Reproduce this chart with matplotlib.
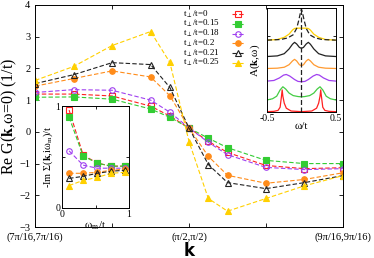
import numpy as np
import matplotlib
matplotlib.use("Agg")
import matplotlib.pyplot as plt
from matplotlib.lines import Line2D

plt.rcParams["font.family"] = "Liberation Serif"
plt.rcParams["mathtext.fontset"] = "stix"
plt.rcParams["xtick.direction"] = "in"
plt.rcParams["ytick.direction"] = "in"

# ---- main panel: Re G(k, w=0) along the diagonal (k in units of pi/16) ----
k_pos = [7, 7.25, 7.5, 7.75, 7.875, 8, 8.125, 8.25, 8.5, 8.75, 9]
k_ticks = [7, 8, 9]
k_labels = ["(7\u03c0/16,7\u03c0/16)", "(\u03c0/2,\u03c0/2)", "(9\u03c0/16,9\u03c0/16)"]

reG_000 = [1.19, 1.19, 1.13, 0.81, 0.50, 0.12, -0.30, -0.65, -1.06, -1.16, -1.13]
reG_015 = [1.09, 1.10, 1.03, 0.72, 0.46, 0.12, -0.20, -0.50, -0.90, -1.00, -1.00]
reG_018 = [1.24, 1.33, 1.31, 1.00, 0.62, 0.12, -0.33, -0.72, -1.12, -1.19, -1.16]
reG_020 = [1.44, 1.68, 1.92, 1.73, 1.14, 0.12, -0.77, -1.37, -1.62, -1.50, -1.29]
reG_021 = [1.52, 1.80, 2.18, 2.12, 1.40, 0.12, -1.03, -1.60, -1.79, -1.60, -1.38]
reG_025 = [1.62, 2.06, 2.72, 3.16, 2.19, -0.31, -2.10, -2.50, -2.10, -1.70, -1.38]

# ---- inset 1: -Im Sigma(k, i w_m)/t ----
w_m = [0.105, 0.314, 0.524, 0.733, 0.942]
sig_000 = [0.96, 0.52, 0.44, 0.41, 0.41]
sig_015 = [0.89, 0.51, 0.44, 0.41, 0.41]
sig_018 = [0.56, 0.42, 0.39, 0.39, 0.39]
sig_020 = [0.34, 0.34, 0.35, 0.37, 0.38]
sig_021 = [0.29, 0.31, 0.34, 0.36, 0.37]
sig_025 = [0.22, 0.27, 0.30, 0.34, 0.35]

# ---- inset 2: A(k, w), curves shifted vertically ----
w_red = [-0.5, -0.4, -0.34, -0.31, -0.29, -0.28, -0.27, -0.25, -0.22, -0.15, 0,
         0.15, 0.22, 0.25, 0.27, 0.28, 0.29, 0.31, 0.34, 0.4, 0.5]
A_000 = [-0.39, -0.38, -0.35, -0.25, 0.10, 0.30, 0.10, -0.12, -0.28, -0.37, -0.39,
         -0.37, -0.28, -0.12, 0.10, 0.30, 0.10, -0.25, -0.35, -0.38, -0.39]
w_grid = [-0.5, -0.42, -0.36, -0.31, -0.27, -0.23, -0.18, -0.12, -0.05, 0,
          0.05, 0.12, 0.18, 0.23, 0.27, 0.31, 0.36, 0.42, 0.5]
A_015 = [-0.02, 0.02, 0.10, 0.30, 0.40, 0.33, 0.20, 0.12, 0.09, 0.08,
         0.09, 0.12, 0.20, 0.33, 0.40, 0.30, 0.10, 0.02, -0.02]
w_pur = [-0.5, -0.4, -0.32, -0.26, -0.22, -0.17, -0.1, -0.05, 0,
         0.05, 0.1, 0.17, 0.22, 0.26, 0.32, 0.4, 0.5]
A_018 = [0.58, 0.60, 0.68, 0.77, 0.79, 0.74, 0.63, 0.57, 0.56,
         0.57, 0.63, 0.74, 0.79, 0.77, 0.68, 0.60, 0.58]
w_mid = [-0.5, -0.35, -0.25, -0.18, -0.13, -0.1, -0.07, -0.03, 0,
         0.03, 0.07, 0.1, 0.13, 0.18, 0.25, 0.35, 0.5]
A_020 = [0.98, 0.99, 1.02, 1.10, 1.22, 1.27, 1.22, 1.10, 1.07,
         1.10, 1.22, 1.27, 1.22, 1.10, 1.02, 0.99, 0.98]
A_021 = [1.36, 1.38, 1.45, 1.60, 1.75, 1.81, 1.76, 1.65, 1.62,
         1.65, 1.76, 1.81, 1.75, 1.60, 1.45, 1.38, 1.36]
A_025 = [1.88, 1.90, 1.97, 2.07, 2.20, 2.25, 2.26, 2.26, 2.26,
         2.26, 2.26, 2.25, 2.20, 2.07, 1.97, 1.90, 1.88]
w_dash = [-0.5, -0.3, -0.2, -0.12, -0.07, -0.04, -0.02, 0,
          0.02, 0.04, 0.07, 0.12, 0.2, 0.3, 0.5]
A_dash = [1.88, 1.90, 1.95, 2.05, 2.25, 2.50, 2.70, 2.87,
          2.70, 2.50, 2.25, 2.05, 1.95, 1.90, 1.88]

colors = ["#ff2020", "#33cc33", "#a040f0", "#ff8c1a", "#222222", "#ffd000"]
markers = ["s", "s", "o", "o", "^", "^"]
filled = [False, True, False, True, False, True]
labels = ["t$_\\perp$/t=0", "t$_\\perp$/t=0.15", "t$_\\perp$/t=0.18",
          "t$_\\perp$/t=0.2", "t$_\\perp$/t=0.21", "t$_\\perp$/t=0.25"]

fig = plt.figure(figsize=(3.74, 2.58), dpi=100)
ax = fig.add_axes([0.094, 0.120, 0.823, 0.861])

reG = [reG_000, reG_015, reG_018, reG_020, reG_021, reG_025]
for vals, c, m, f in zip(reG, colors, markers, filled):
    ax.plot(k_pos, vals, ls=(0, (4, 2)), lw=0.8, color=c, marker=m, ms=4,
            mfc=c if f else "none", mec=c, mew=0.8)

ax.set_xlim(7, 9)
ax.set_ylim(-3, 4)
ax.set_xticks(k_ticks)
ax.set_xticklabels(k_labels, fontsize=7.5)
ax.set_xticks([7.5, 8.5], minor=True)
ax.set_yticks(range(-3, 5))
ax.tick_params(labelsize=7.5, top=True, right=True, length=3, width=0.6)
ax.tick_params(which="minor", top=True, length=3, width=0.6)
for s in ax.spines.values():
    s.set_linewidth(0.7)
ax.set_xlabel("k", fontsize=12, fontweight="bold", family="DejaVu Sans", labelpad=0)
ax.set_ylabel("Re G($\\mathbf{k}$,\u03c9=0) (1/t)", fontsize=11.5, labelpad=0)

# legend: text left aligned, marker to the right
for i, (c, m, f, lab) in enumerate(zip(colors, markers, filled, labels)):
    yy = 0.959 - 0.044 * i
    ax.text(0.48, yy, lab, transform=ax.transAxes, fontsize=6.5, va="center", ha="left")
    ax.add_line(Line2D([0.638, 0.682], [yy, yy], transform=ax.transAxes,
                       ls=(0, (4, 2)), lw=0.8, color=c))
    ax.add_line(Line2D([0.66], [yy], transform=ax.transAxes, ls="none",
                       marker=m, ms=4, color=c, mfc=c if f else "none",
                       mec=c, mew=0.8))

# inset 1
ax1 = fig.add_axes([0.166, 0.194, 0.179, 0.395])
sig = [sig_000, sig_015, sig_018, sig_020, sig_021, sig_025]
for vals, c, m, f in zip(sig, colors, markers, filled):
    ax1.plot(w_m, vals, ls=(0, (4, 2)), lw=0.8, color=c, marker=m, ms=4,
             mfc=c if f else "none", mec=c, mew=0.8)
ax1.set_xlim(0, 1)
ax1.set_ylim(0, 1)
ax1.set_xticks([0, 0.5, 1])
ax1.set_xticklabels(["0", "", "1"])
ax1.set_yticks([0, 0.5, 1])
ax1.set_yticklabels(["0", "", "1"])
ax1.tick_params(labelsize=7, top=True, right=True, length=2.5, width=0.6, pad=1.5)
for s in ax1.spines.values():
    s.set_linewidth(0.7)
ax1.set_xlabel("\u03c9$_\\mathrm{m}$/t", fontsize=8, labelpad=0)
ax1.set_ylabel("-Im \u03a3($\\mathbf{k}$,i\u03c9$_\\mathrm{m}$)/t", fontsize=7.5, labelpad=0)

# inset 2
ax2 = fig.add_axes([0.714, 0.566, 0.184, 0.403])
ax2.plot(w_red, A_000, color="#ff2020", lw=0.9)
ax2.plot(w_grid, A_015, color="#44cc44", lw=0.9)
ax2.plot(w_pur, A_018, color="#a040f0", lw=0.9)
ax2.plot(w_mid, A_020, color="#ff9a30", lw=0.9)
ax2.plot(w_mid, A_021, color="#222222", lw=0.9)
ax2.plot(w_mid, A_025, color="#ffd000", lw=0.9)
ax2.plot(w_dash, A_dash, color="#222222", lw=0.9, ls=(0, (4, 2)))
ax2.axvline(0, color="#222222", lw=0.9, ls=(0, (4, 2)))
ax2.set_xlim(-0.5, 0.5)
ax2.set_ylim(-0.4, 2.9)
ax2.set_xticks([-0.5, 0, 0.5])
ax2.set_xticklabels(["-0.5", "", "0.5"])
ax2.set_yticks([0, 1, 2])
ax2.set_yticklabels([])
ax2.tick_params(labelsize=7, top=True, right=True, length=2.5, width=0.6, pad=1.5)
for s in ax2.spines.values():
    s.set_linewidth(0.7)
ax2.set_xlabel("\u03c9/t", fontsize=8, labelpad=-1)
ax2.set_ylabel("A($\\mathbf{k}$,\u03c9)", fontsize=8, labelpad=2)

fig.savefig("out.png", dpi=100)
